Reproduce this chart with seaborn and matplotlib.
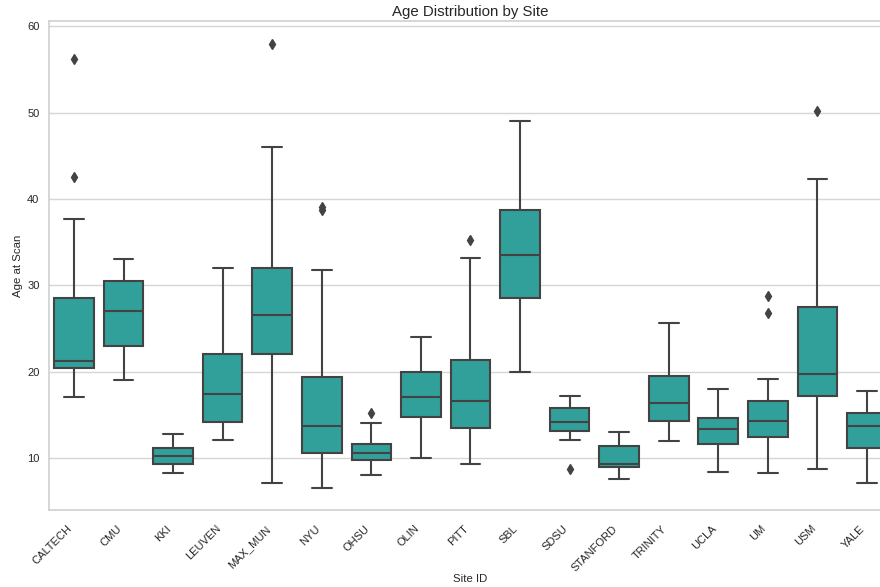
import matplotlib
matplotlib.use("Agg")
import matplotlib.pyplot as plt
import numpy as np
import pandas as pd
import seaborn as sns

# Per-site age summary: whisker ends, quartiles, median and outlying scans
sites = ["CALTECH", "CMU", "KKI", "LEUVEN", "MAX_MUN", "NYU", "OHSU", "OLIN",
         "PITT", "SBL", "SDSU", "STANFORD", "TRINITY", "UCLA", "UM", "USM", "YALE"]
whisker_low = [17.0, 19.0, 8.23, 12.1, 7.05, 6.49, 8.03, 10.0,
               9.31, 20.0, 12.08, 7.57, 12.0, 8.38, 8.23, 8.73, 7.03]
quartile_1 = [20.45, 23.0, 9.3, 14.2, 22.0, 10.5, 9.69, 14.75,
              13.44, 28.5, 13.13, 8.96, 14.32, 11.58, 12.43, 17.14, 11.08]
medians = [21.2, 27.0, 10.2, 17.44, 26.55, 13.67, 10.5, 17.0,
           16.63, 33.5, 14.17, 9.31, 16.4, 13.28, 14.32, 19.76, 13.74]
quartile_3 = [28.5, 30.5, 11.16, 22.0, 32.0, 19.34, 11.54, 20.0,
              21.38, 38.74, 15.79, 11.42, 19.49, 14.6, 16.63, 27.51, 15.24]
whisker_high = [37.7, 33.0, 12.8, 32.0, 46.0, 31.76, 14.0, 24.0,
                33.2, 49.0, 17.18, 12.97, 25.66, 17.95, 19.18, 42.29, 17.75]
outliers_low = [[], [], [], [], [], [], [], [],
                [], [], [8.65], [], [], [], [], [], []]
outliers_high = [[42.5, 56.2], [], [], [], [58.0], [38.7, 39.1], [15.24], [],
                 [35.2], [], [], [], [], [], [26.8, 28.8], [50.2], []]


def site_ages(lo, q1, med, q3, hi, below, above):
    """Ordered ages whose quartiles, median and whisker ends equal the summary."""
    k = max(len(below), len(above)) + 1
    lower = sorted(below) + [lo] + [q1] * (k - 1 - len(below))
    upper = [q3] * (k - 1 - len(above)) + [hi] + sorted(above)
    return lower + [q1] * k + [med] + [q3] * k + upper


rows = []
for i, site in enumerate(sites):
    ages = site_ages(whisker_low[i], quartile_1[i], medians[i], quartile_3[i],
                     whisker_high[i], outliers_low[i], outliers_high[i])
    rows += [(site, a) for a in ages]
df = pd.DataFrame(rows, columns=["Site ID", "Age at Scan"])

sns.set_theme(style="whitegrid")
plt.rcParams["font.family"] = ["Liberation Sans", "DejaVu Sans"]
plt.rcParams["axes.edgecolor"] = "#d0d0d0"
plt.rcParams["grid.color"] = "#d6d6d6"

fig = plt.figure(figsize=(8.8, 5.87), dpi=100)
ax = fig.add_axes([0.0559, 0.1307, 0.9575, 0.8327])

line_col = "#434343"
sns.boxplot(
    data=df, x="Site ID", y="Age at Scan", order=sites,
    color="lightseagreen", saturation=0.75, width=0.8,
    linecolor=line_col, linewidth=1.5,
    flierprops=dict(marker="d", markersize=4.6, markerfacecolor=line_col,
                    markeredgecolor=line_col),
    ax=ax,
)

ax.set_title("Age Distribution by Site", fontsize=10.8, color="#262626", pad=4)
ax.set_xlabel("Site ID", fontsize=8.2, color="#262626", labelpad=1)
ax.set_ylabel("Age at Scan", fontsize=8.2, color="#262626", labelpad=3)
ax.tick_params(axis="both", labelsize=8, colors="#262626")
ax.tick_params(axis="y", length=0, pad=7)
plt.setp(ax.get_xticklabels(), rotation=45, ha="right")
ax.grid(axis="x", visible=False)
for s in ax.spines.values():
    s.set_linewidth(1.2)

fig.savefig("out.png", dpi=100)
